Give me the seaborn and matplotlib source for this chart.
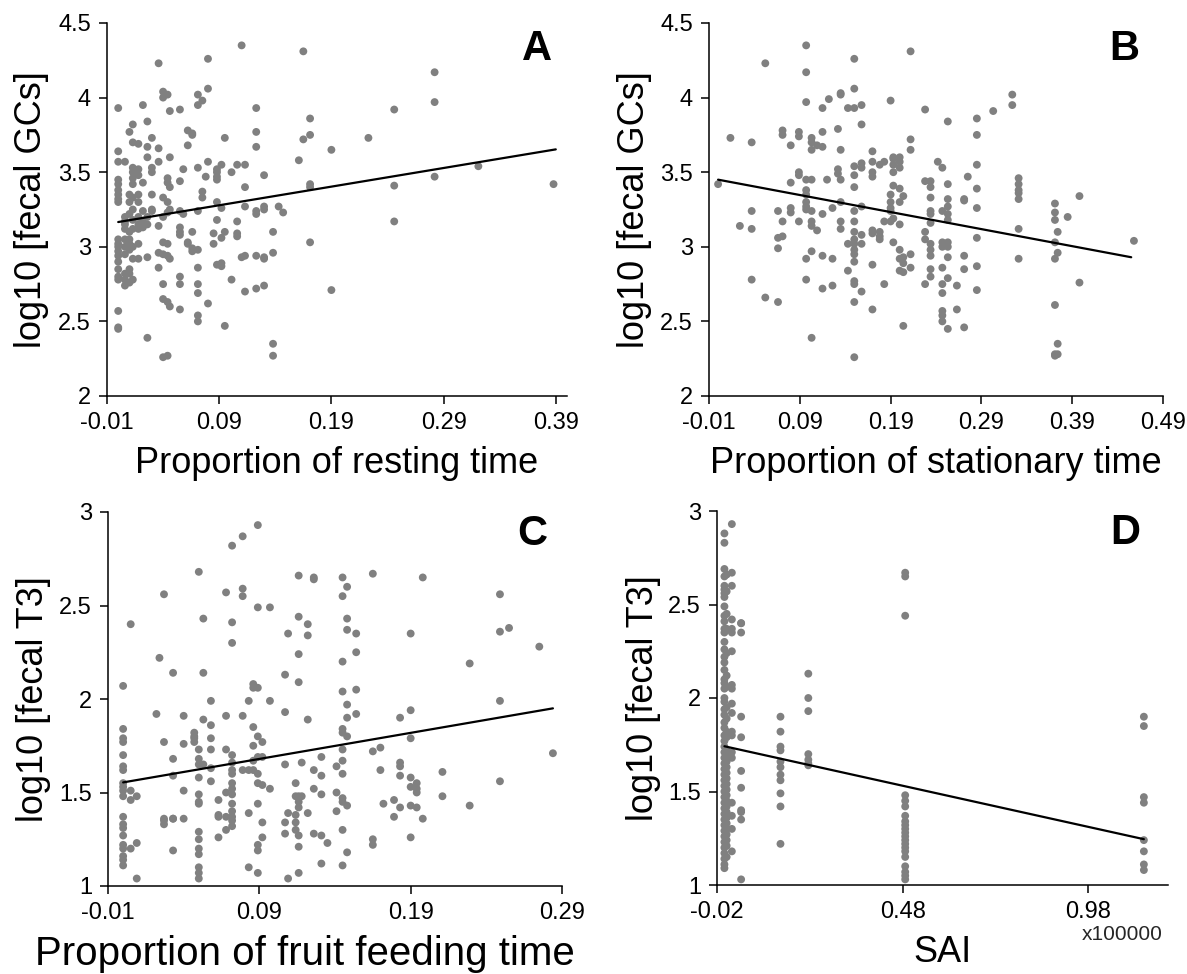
import numpy as np
import pandas as pd
import matplotlib
matplotlib.use("Agg")
import matplotlib.pyplot as plt
import seaborn as sns

# ---------------- Panel A: resting time vs log10 fecal GCs ----------------
a_cols = [0.0, 0.006, 0.01, 0.013, 0.018, 0.022, 0.026, 0.03, 0.036, 0.04, 0.044, 0.046,
          0.055, 0.058, 0.062, 0.066, 0.071, 0.075, 0.078, 0.08, 0.085, 0.088, 0.092,
          0.095, 0.101, 0.106, 0.11, 0.113, 0.123, 0.13, 0.138, 0.143, 0.147, 0.161,
          0.165, 0.171, 0.19, 0.223, 0.246, 0.282, 0.321, 0.388]
a_vals = [
    [3.93, 3.64, 3.57, 3.45, 3.42, 3.38, 3.35, 3.32, 3.30, 3.05, 3.02, 3.0, 2.97, 2.94, 2.90, 2.85, 2.80, 2.78, 2.57, 2.45, 2.46],
    [3.57, 3.20, 3.17, 3.15, 3.12, 3.05, 3.0, 2.95, 2.82, 2.78, 2.74],
    [3.77, 3.35, 3.30, 3.22, 3.10, 3.05, 3.02, 2.98, 2.85, 2.82, 2.76],
    [3.82, 3.70, 3.53, 3.50, 3.46, 3.42, 3.33, 3.25, 3.18, 3.12, 3.0, 2.92, 2.78],
    [3.69, 3.52, 3.48, 3.35, 3.30, 3.20, 3.15, 3.12, 3.02, 2.92],
    [3.95, 3.43, 3.24, 3.17, 3.13],
    [3.84, 3.67, 3.60, 3.20, 3.15, 2.93, 2.39],
    [3.73, 3.53, 3.50, 3.35, 3.25, 3.24],
    [4.23, 3.66, 3.57, 3.14, 2.96, 2.86],
    [4.04, 4.00, 3.33, 3.20, 3.03, 2.95, 2.75, 2.65, 2.26],
    [4.02, 3.46, 3.43, 3.30, 3.23, 3.02, 2.94, 2.63, 2.27],
    [3.91, 3.60, 3.40, 3.25, 2.92, 2.60],
    [3.92, 3.44, 3.24, 3.13, 3.10, 3.08, 2.80, 2.75, 2.58],
    [3.52, 3.22],
    [3.78, 3.68, 3.03, 3.02],
    [3.76, 3.75, 3.10, 2.97, 2.99],
    [4.02, 3.95, 3.53, 3.24, 2.98, 2.86, 2.75, 2.69, 2.54, 2.50],
    [3.98, 3.37, 3.33],
    [3.47],
    [4.26, 4.06, 3.57, 2.62],
    [3.09, 3.02],
    [3.52, 3.50, 3.47, 3.45, 3.30, 3.18, 2.88],
    [3.55, 3.26, 3.06, 2.87, 2.89],
    [3.73, 3.10, 2.47],
    [3.50, 2.78],
    [3.55, 3.17, 3.09, 3.07],
    [4.35, 2.93],
    [3.55, 3.40, 3.27, 2.94, 2.70],
    [3.93, 3.77, 3.67, 3.24, 3.22, 2.94, 2.72],
    [3.48, 3.27, 3.25, 2.93, 2.92, 2.74],
    [3.10, 2.96, 2.35, 2.27],
    [3.27],
    [3.23],
    [3.58],
    [4.31, 3.72],
    [3.86, 3.75, 3.42, 3.40, 3.03],
    [3.65, 2.71],
    [3.73],
    [3.92, 3.41, 3.17],
    [4.17, 3.97, 3.47],
    [3.54],
    [3.42],
]
a_fit_x = [0.0, 0.39]
a_fit_y = [3.166, 3.653]

# ---------------- Panel B: stationary time vs log10 fecal GCs ----------------
b_cols = [0.0, 0.0136, 0.024, 0.037, 0.052, 0.066, 0.071, 0.08, 0.089, 0.097, 0.103,
          0.109, 0.115, 0.12, 0.122, 0.126, 0.132, 0.135, 0.143, 0.15, 0.158, 0.17,
          0.178, 0.183, 0.19, 0.193, 0.2, 0.204, 0.212, 0.228, 0.234, 0.242, 0.247,
          0.253, 0.263, 0.271, 0.275, 0.285, 0.303, 0.324, 0.331, 0.371, 0.374,
          0.385, 0.398, 0.458]
b_vals = [
    [3.42],
    [3.73],
    [3.14],
    [3.70, 3.24, 3.12, 2.78],
    [4.23, 2.66],
    [3.24, 3.06, 2.99, 2.63],
    [3.78, 3.75, 3.17, 3.07],
    [3.68, 3.43, 3.26, 3.23],
    [3.77, 3.74, 3.50, 3.48, 3.17],
    [4.35, 4.17, 3.97, 3.45, 3.38, 3.35, 3.30, 3.27, 3.25, 2.92, 2.78],
    [3.73, 3.70, 3.65, 3.45, 3.24, 3.17, 3.14, 2.97, 2.39],
    [3.68, 3.11],
    [3.93, 3.77, 3.67, 3.22, 2.94, 2.72],
    [3.45],
    [3.99],
    [3.26, 2.92, 2.74],
    [3.79, 3.52, 3.49],
    [4.03, 4.02, 3.65, 3.45, 3.30, 3.17, 3.12],
    [3.93, 3.02, 2.84],
    [4.26, 4.06, 3.93, 3.54, 3.48, 3.40, 3.24, 3.17, 3.10, 3.05, 3.02, 2.98, 2.95, 2.90, 2.77, 2.75, 2.63, 2.26],
    [3.82, 3.95, 3.53, 3.56, 3.27, 3.08, 3.02, 2.70],
    [3.64, 3.57, 3.50, 3.47, 3.11, 3.09, 2.88, 2.58],
    [3.55, 3.10, 3.05, 3.07],
    [3.57, 3.17, 2.75],
    [3.98, 3.35, 3.30, 3.26, 3.24, 3.17],
    [3.60, 3.59, 3.55, 3.50, 3.41, 3.19, 3.03],
    [3.60, 3.57, 3.53, 3.39, 3.30, 3.15, 2.98, 2.92, 2.84],
    [3.34, 2.93, 2.89, 2.83, 2.47],
    [4.31, 3.72, 3.65, 2.86, 2.95],
    [3.92, 3.44, 3.10, 3.05, 2.75],
    [3.44, 3.40, 3.33, 3.24, 3.22, 3.16, 3.02, 2.98, 2.94, 2.85, 2.80],
    [3.57],
    [3.53, 3.24, 3.03, 3.00, 2.86, 2.75, 2.69, 2.57, 2.54, 2.50],
    [3.84, 3.42, 3.32, 3.27, 3.22, 3.18, 3.03, 3.00, 2.93, 2.79, 2.45],
    [2.74, 2.58],
    [3.32, 3.31, 2.94, 2.85, 2.46],
    [3.47],
    [3.86, 3.75, 3.55, 3.39, 3.26, 3.06, 2.87, 2.71],
    [3.91],
    [4.02, 3.95],
    [3.46, 3.42, 3.38, 3.36, 3.32, 3.12, 2.92],
    [3.29, 3.23, 3.18, 3.03, 2.92, 2.61, 2.28, 2.27],
    [3.10, 2.96, 2.35, 2.28],
    [3.20],
    [3.34, 2.76],
    [3.04],
]
b_fit_x = [0.0, 0.455]
b_fit_y = [3.45, 2.93]

# ---------------- Panel C: fruit feeding time vs log10 fecal T3 ----------------
c_cols = [0.0, 0.005, 0.009, 0.022, 0.024, 0.027, 0.033, 0.04, 0.047, 0.05, 0.053,
          0.058, 0.063, 0.068, 0.072, 0.079, 0.083, 0.086, 0.089, 0.092, 0.097,
          0.107, 0.109, 0.114, 0.116, 0.118, 0.122, 0.126, 0.131, 0.135, 0.141,
          0.145, 0.148, 0.154, 0.165, 0.17, 0.172, 0.179, 0.183, 0.19, 0.194,
          0.198, 0.211, 0.229, 0.249, 0.255, 0.275, 0.284]
c_vals = [
    [2.07, 1.84, 1.79, 1.77, 1.70, 1.64, 1.62, 1.55, 1.53, 1.51, 1.48, 1.37, 1.33, 1.31, 1.27, 1.22, 1.20, 1.16, 1.14, 1.11],
    [2.40, 1.51, 1.46, 1.20],
    [1.48, 1.23, 1.04],
    [1.92],
    [2.22],
    [2.56, 1.77, 1.35, 1.33, 1.36],
    [1.68, 1.19, 1.36, 1.36, 2.14, 1.59],
    [1.91, 1.76, 1.51, 1.36],
    [1.80, 1.82, 1.79, 1.77],
    [2.68, 1.73, 1.68, 1.65, 1.58, 1.49, 1.44, 1.45, 1.29, 1.25, 1.20, 1.17, 1.10, 1.07, 1.04],
    [2.43, 2.14, 1.89, 1.65],
    [1.99, 1.86, 1.79, 1.73, 1.63, 1.56],
    [1.46, 1.38, 1.37, 1.26],
    [2.57, 1.91, 1.73, 1.50, 1.37, 1.30],
    [2.82, 2.41, 2.30, 1.70, 1.66, 1.62, 1.60, 1.55, 1.52, 1.49, 1.44, 1.40, 1.37, 1.35, 1.32],
    [2.87, 2.59, 2.55, 1.91, 1.62],
    [1.99, 1.39, 1.10, 1.62],
    [2.08, 2.06, 1.85, 1.75, 1.67, 1.62],
    [2.93, 2.49, 2.06, 1.80, 1.69, 1.60, 1.55, 1.44, 1.22, 1.19, 1.07],
    [1.77, 1.69, 1.54, 1.34, 1.26],
    [2.49, 1.99, 1.52],
    [2.13, 1.93, 1.65, 1.34, 1.28],
    [2.35, 1.39, 1.04],
    [1.55, 1.48, 1.38, 1.34, 1.30],
    [2.66, 2.44, 2.24, 2.09, 1.48, 1.45, 1.42, 1.27, 1.21, 1.07],
    [1.66, 1.48],
    [2.40, 2.34, 1.89, 1.39],
    [2.65, 2.64, 1.62, 1.52, 1.28],
    [1.69, 1.59, 1.49, 1.27, 1.12],
    [1.23],
    [1.64, 1.50, 1.40],
    [2.65, 2.55, 2.20, 2.04, 1.84, 1.82, 1.73, 1.67, 1.60, 1.45, 1.47, 1.30, 1.11],
    [2.60, 2.43, 2.37, 1.97, 1.90, 1.80, 1.43, 1.18],
    [2.35, 2.25, 2.05, 1.92],
    [2.67, 1.72, 1.25, 1.22],
    [1.74, 1.62],
    [1.44],
    [1.46, 1.37],
    [1.90, 1.66, 1.64, 1.59, 1.42],
    [2.35, 1.94, 1.79, 1.58, 1.53, 1.43, 1.26],
    [1.55, 1.52, 1.50, 1.42],
    [2.65, 1.36],
    [1.61, 1.48],
    [2.19, 1.43],
    [2.56, 2.36, 1.99, 1.56],
    [2.38],
    [2.28],
    [1.71],
]
c_fit_x = [0.0, 0.284]
c_fit_y = [1.554, 1.95]

# ---------------- Panel D: SAI vs log10 fecal T3 ----------------
d_cols = [0.0, 0.006, 0.02, 0.045, 0.151, 0.226, 0.487, 1.13]
d_vals = [
    [2.88, 2.83, 2.69, 2.65, 2.60, 2.58, 2.56, 2.54, 2.49, 2.44, 2.41, 2.37, 2.35, 2.30, 2.26,
     2.22, 2.19, 2.15, 2.10, 2.08, 2.05, 2.00, 1.98, 1.94, 1.91, 1.87, 1.84, 1.80, 1.77, 1.74,
     1.71, 1.68, 1.65, 1.62, 1.59, 1.56, 1.53, 1.50, 1.47, 1.44, 1.41, 1.38, 1.35, 1.32, 1.29,
     1.26, 1.23, 1.20, 1.17, 1.14, 1.11, 1.09],
    [2.66, 2.57, 2.45, 2.37, 2.24, 2.12, 2.06, 1.95, 1.89, 1.82, 1.79, 1.72, 1.69, 1.66, 1.63,
     1.60, 1.57, 1.54, 1.51, 1.48, 1.45, 1.42, 1.39, 1.36, 1.33, 1.30, 1.27, 1.24, 1.21, 1.15],
    [2.93, 2.67, 2.60, 2.42, 2.37, 2.35, 2.25, 2.07, 2.05, 1.97, 1.92, 1.82, 1.80, 1.71, 1.68,
     1.44, 1.37, 1.30, 1.18],
    [2.40, 2.40, 2.35, 1.90, 1.79, 1.61, 1.52, 1.40, 1.39, 1.35, 1.03],
    [1.90, 1.82, 1.74, 1.72, 1.66, 1.63, 1.59, 1.56, 1.49, 1.42, 1.22],
    [2.13, 2.00, 1.93, 1.70, 1.67, 1.65, 1.64],
    [2.67, 2.65, 2.44, 1.48, 1.45, 1.42, 1.37, 1.34, 1.32, 1.30, 1.28, 1.26, 1.24, 1.22, 1.20,
     1.18, 1.15, 1.10, 1.07, 1.05, 1.03],
    [1.90, 1.85, 1.47, 1.44, 1.24, 1.18, 1.11, 1.08],
]
d_fit_x = [0.0, 1.13]
d_fit_y = [1.742, 1.245]

# ---------------- Axis text ----------------
xlabels = ["Proportion of resting time", "Proportion of stationary time",
           "Proportion of fruit feeding time", "SAI"]
ylabels = ["log10 [fecal GCs]", "log10 [fecal GCs]", "log10 [fecal T3]", "log10 [fecal T3]"]
letters = ["A", "B", "C", "D"]
xticks_list = [[-0.01, 0.09, 0.19, 0.29, 0.39],
               [-0.01, 0.09, 0.19, 0.29, 0.39, 0.49],
               [-0.01, 0.09, 0.19, 0.29],
               [-0.02, 0.48, 0.98]]
xlims = [(-0.01, 0.40), (-0.01, 0.49), (-0.01, 0.29), (-0.02, 1.195)]
yticks_gc = [2, 2.5, 3, 3.5, 4, 4.5]
yticks_t3 = [1, 1.5, 2, 2.5, 3]


def expand(cols, vals):
    xs, ys = [], []
    for c, v in zip(cols, vals):
        xs.extend([c] * len(v))
        ys.extend(v)
    return pd.DataFrame({"x": xs, "y": ys})


frames = [expand(a_cols, a_vals), expand(b_cols, b_vals),
          expand(c_cols, c_vals), expand(d_cols, d_vals)]
fits = [(a_fit_x, a_fit_y), (b_fit_x, b_fit_y), (c_fit_x, c_fit_y), (d_fit_x, d_fit_y)]

sns.set_theme(style="ticks")
plt.rcParams['font.family'] = ['Liberation Sans', 'DejaVu Sans']

W, H = 1187, 974
fig = plt.figure(figsize=(W / 100, H / 100), dpi=100)

# axes boxes in pixels: left, top, right, bottom
boxes = [(107, 23, 567, 396), (709, 23, 1163, 396),
         (108, 512, 562, 886), (717, 511, 1168, 885)]
letter_pos = [(0.935, 0.93), (0.915, 0.93), (0.935, 0.94), (0.905, 0.94)]
xlabel_pos = [(0.5, -0.135), (0.5, -0.135), (0.434, -0.13), (0.5, -0.135)]
xlabel_size = [26, 26, 29, 26]

for i in range(4):
    l, t, r, b = boxes[i]
    ax = fig.add_axes([l / W, 1 - b / H, (r - l) / W, (b - t) / H])
    df = frames[i]
    sns.scatterplot(data=df, x="x", y="y", ax=ax, color="#808080", s=32,
                    edgecolor="none", linewidth=0, zorder=2, legend=False)
    fx, fy = fits[i]
    sns.lineplot(x=fx, y=fy, ax=ax, color="black", linewidth=1.6, zorder=3,
                 estimator=None, sort=False)
    sns.despine(ax=ax)
    ax.set_xlim(*xlims[i])
    if i < 2:
        ax.set_ylim(2, 4.5)
        ax.set_yticks(yticks_gc)
        ax.set_yticklabels(["2", "2.5", "3", "3.5", "4", "4.5"])
    else:
        ax.set_ylim(1, 3)
        ax.set_yticks(yticks_t3)
        ax.set_yticklabels(["1", "1.5", "2", "2.5", "3"])
    ax.set_xticks(xticks_list[i])
    ax.set_xticklabels([f"{v:.2f}" for v in xticks_list[i]])
    for sp in ax.spines.values():
        sp.set_color("black")
        sp.set_linewidth(1.1)
    ax.tick_params(direction="out", length=5.5, width=1.1, labelsize=17,
                   colors="black", pad=6)
    ax.set_xlabel(xlabels[i], fontsize=xlabel_size[i], color="black")
    ax.set_ylabel(ylabels[i], fontsize=26, color="black")
    ax.xaxis.set_label_coords(*xlabel_pos[i])
    ax.yaxis.set_label_coords(-0.125, 0.5)
    ax.text(letter_pos[i][0], letter_pos[i][1], letters[i], transform=ax.transAxes,
            fontsize=30, fontweight="bold", ha="center", va="center", color="black")

# scale note under panel D
fig.text(1122 / W, 1 - 935 / H, "x100000", fontsize=15, ha="center", va="center")

fig.savefig("out.png", dpi=100)
